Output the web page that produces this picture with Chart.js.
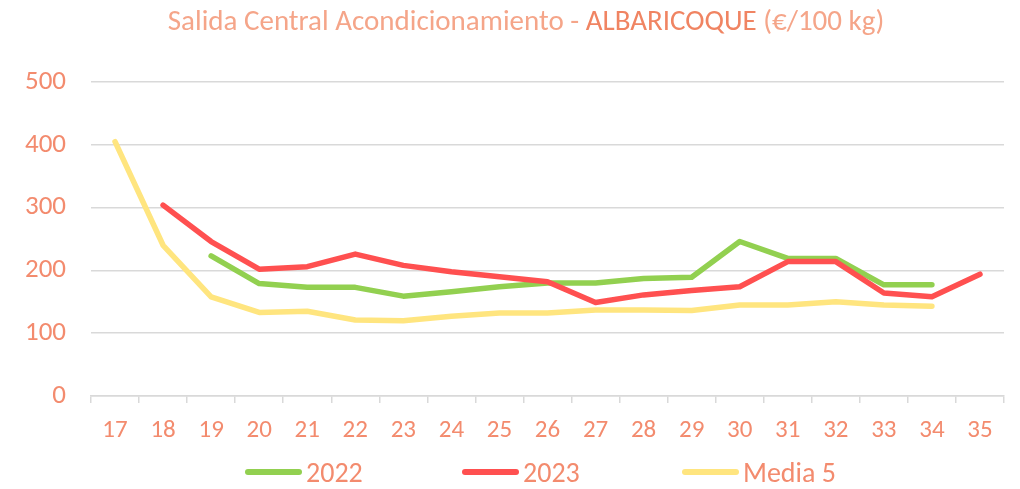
<!DOCTYPE html>
<html>
<head>
<meta charset="utf-8">
<script src="https://cdn.jsdelivr.net/npm/chart.js@4"></script>
<style>
  html, body { margin: 0; padding: 0; background: #fff; }
  #wrap { position: relative; width: 1020px; height: 489px; overflow: hidden; font-family: Carlito, Calibri, Lato, sans-serif; }
  #c { position: absolute; left: 0; top: 0; }
  #title { position: absolute; left: 32px; width: 988px; top: 2px; text-align: center; font-size: 29px; color: #F5A589; font-weight: 300; white-space: nowrap; }
  #title .main { color: #F08462; font-weight: 400; }
  #legend { position: absolute; top: 456px; left: 0; width: 1020px; height: 32px; }
  .li { position: absolute; top: 0; height: 32px; display: flex; align-items: center; font-size: 28px; color: #F38B6E; }
  .li .sw { width: 57px; height: 6px; border-radius: 3px; margin-right: 4px; }
</style>
</head>
<body>
<div id="wrap">
  <canvas id="c" width="1020" height="489"></canvas>
  <div id="title">Salida Central Acondicionamiento - <span class="main">ALBARICOQUE</span> (€/100 kg)</div>
  <div id="legend"></div>
</div>
<script>
const weeks = ['17','18','19','20','21','22','23','24','25','26','27','28','29','30','31','32','33','34','35'];
const serie2022 = [null, null, 223, 179, 173, 173, 159, 166, 174, 180, 180, 187, 189, 246, 219, 219, 177, 177, null];
const serie2023 = [null, 304, 246, 202, 206, 226, 208, 198, 190, 182, 149, 161, 168, 174, 214, 214, 164, 158, 194];
const serieMedia5 = [405, 240, 158, 133, 135, 121, 120, 127, 132, 132, 137, 137, 136, 145, 145, 150, 145, 143, null];
const yTicks = [0, 100, 200, 300, 400, 500];
const seriesNames = ['2022', '2023', 'Media 5'];
const seriesColors = ['#92D050', '#FF5050', '#FFE57F'];

const txt = '#F38B6E';
const fontFam = 'Carlito, Calibri, Lato, sans-serif';
const grid = '#D9D9D9';

function ds(label, data, color, order) {
  return { label, data, borderColor: color, backgroundColor: color, borderWidth: 5.5,
    pointRadius: 0, pointHoverRadius: 0, tension: 0, borderCapStyle: 'round', borderJoinStyle: 'round',
    spanGaps: false, order };
}

new Chart(document.getElementById('c'), {
  type: 'line',
  data: {
    labels: weeks,
    datasets: [
      ds(seriesNames[0], serie2022, seriesColors[0], 1),
      ds(seriesNames[1], serie2023, seriesColors[1], 0),
      ds(seriesNames[2], serieMedia5, seriesColors[2], 2)
    ]
  },
  options: {
    responsive: false,
    animation: false,
    devicePixelRatio: 1,
    layout: { padding: { left: 0, right: 16, top: 82, bottom: 0 } },
    plugins: { legend: { display: false }, title: { display: false }, tooltip: { enabled: false } },
    scales: {
      x: {
        offset: true,
        grid: { display: true, drawOnChartArea: false, drawTicks: true, tickLength: 7, offset: true, color: grid, lineWidth: 1.5 },
        border: { display: true, color: grid, width: 1.5 },
        ticks: { color: txt, font: { family: fontFam, size: 25 }, padding: 13, maxRotation: 0, autoSkip: false },
        afterFit: s => { s.height = 93; }
      },
      y: {
        min: 0, max: 500,
        afterBuildTicks: s => { s.ticks = yTicks.map(v => ({ value: v })); },
        grid: { color: grid, lineWidth: 1.5, drawTicks: false },
        border: { display: false },
        ticks: { color: txt, font: { family: fontFam, size: 27 }, padding: 25 },
        afterFit: s => { s.width = 91; }
      }
    }
  }
});

const lg = document.getElementById('legend');
const lefts = [245, 462, 682];
seriesNames.forEach((n, i) => {
  const d = document.createElement('div');
  d.className = 'li';
  d.style.left = lefts[i] + 'px';
  d.innerHTML = '<div class="sw" style="background:' + seriesColors[i] + '"></div><span>' + n + '</span>';
  lg.appendChild(d);
});
</script>
</body>
</html>
